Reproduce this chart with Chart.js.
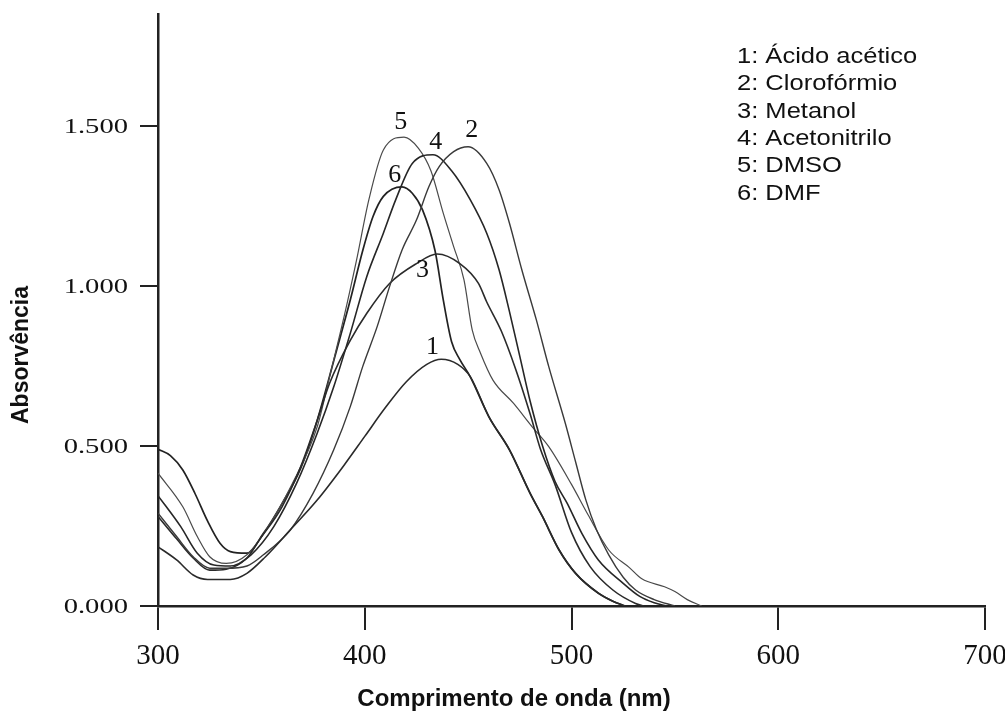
<!DOCTYPE html>
<html>
<head>
<meta charset="utf-8">
<script src="https://cdn.jsdelivr.net/npm/chart.js@4/dist/chart.umd.min.js"></script>
<style>
  body { margin: 0; background: #fff; }
  canvas { display: block; }
</style>
</head>
<body>
<canvas id="spectra" width="1005" height="713"></canvas>
<script>
// Espectros UV-Vis em diferentes solventes
// valores (comprimento de onda em nm, absorvência)

let legendLines = ['1: Ácido acético', '2: Clorofórmio', '3: Metanol', '4: Acetonitrilo', '5: DMSO', '6: DMF'];
let xTicks = [300, 400, 500, 600, 700];
let yTicks = [0, 0.5, 1.0, 1.5];

// 1: Ácido acético
let wl1 = [300, 309, 317, 324, 335, 343, 352, 364, 377, 390, 400, 410, 420, 430, 437, 445, 451, 460, 470, 480, 486, 494, 502, 513, 520, 526];
let abs1 = [0.185, 0.144, 0.097, 0.083, 0.083, 0.102, 0.154, 0.238, 0.331, 0.44, 0.53, 0.62, 0.70, 0.755, 0.771, 0.755, 0.717, 0.592, 0.488, 0.352, 0.279, 0.175, 0.102, 0.04, 0.015, 0];

// 2: Clorofórmio
let wl2 = [300, 309, 317, 325, 333, 343, 351, 364, 375, 385, 393, 399, 406, 412, 418, 425, 431, 436, 443, 450, 459, 465, 470, 476, 483, 489, 497, 502, 507, 512, 518, 525, 531, 540, 550];
let abs2 = [0.29, 0.217, 0.154, 0.118, 0.118, 0.125, 0.16, 0.238, 0.352, 0.488, 0.623, 0.748, 0.873, 0.998, 1.112, 1.206, 1.31, 1.373, 1.42, 1.435, 1.383, 1.30, 1.196, 1.05, 0.894, 0.748, 0.571, 0.45, 0.33, 0.24, 0.16, 0.09, 0.05, 0.02, 0];

// 3: Metanol
let wl3 = [300, 309, 317, 325, 333, 343, 349, 360, 369, 377, 383, 393, 401, 412, 425, 435, 446, 455, 459, 466, 473, 480, 485, 492, 500, 509, 520, 531, 535];
let abs3 = [0.28, 0.21, 0.15, 0.112, 0.115, 0.15, 0.206, 0.31, 0.435, 0.58, 0.696, 0.83, 0.915, 1.008, 1.07, 1.10, 1.07, 1.008, 0.95, 0.86, 0.74, 0.60, 0.49, 0.38, 0.23, 0.123, 0.05, 0.008, 0];

// 4: Acetonitrilo
let wl4 = [300, 311, 319, 327, 335, 345, 356, 367, 377, 385, 393, 401, 409, 415, 423, 433, 442, 451, 459, 465, 470, 475, 480, 486, 492, 498, 505, 513, 525, 533, 540, 546];
let abs4 = [0.345, 0.248, 0.165, 0.128, 0.125, 0.16, 0.248, 0.383, 0.54, 0.685, 0.852, 1.03, 1.165, 1.27, 1.383, 1.41, 1.36, 1.27, 1.165, 1.05, 0.92, 0.78, 0.64, 0.50, 0.39, 0.32, 0.227, 0.144, 0.071, 0.03, 0.01, 0];

// 5: DMSO
let wl5 = [300, 312, 319, 325, 333, 343, 352, 365, 377, 383, 390, 396, 402, 409, 419, 426, 432, 438, 443, 448, 452, 456, 462, 472, 481, 489, 500, 508, 518, 528, 534, 545, 550, 556, 563];
let abs5 = [0.415, 0.31, 0.217, 0.154, 0.133, 0.16, 0.235, 0.383, 0.56, 0.717, 0.904, 1.08, 1.27, 1.425, 1.465, 1.43, 1.36, 1.227, 1.123, 1.019, 0.862, 0.79, 0.706, 0.633, 0.56, 0.498, 0.38, 0.285, 0.175, 0.12, 0.085, 0.06, 0.045, 0.02, 0];

// 6: DMF
let wl6 = [300, 306, 312, 318, 324, 330, 335, 343, 351, 360, 369, 377, 386, 393, 399, 404, 409, 418, 423, 428, 434, 438, 442, 446, 451, 460, 470, 480, 486, 494, 502, 513, 520, 526];
let abs6 = [0.49, 0.47, 0.425, 0.35, 0.265, 0.196, 0.17, 0.165, 0.227, 0.32, 0.43, 0.58, 0.79, 0.956, 1.11, 1.217, 1.28, 1.31, 1.29, 1.237, 1.11, 0.956, 0.826, 0.77, 0.717, 0.592, 0.488, 0.352, 0.279, 0.175, 0.102, 0.04, 0.015, 0];

// números das curvas (posição em coordenadas de dados)
let curveLabels = ['1', '2', '3', '4', '5', '6'];
let labelWl = [432.8, 451.7, 427.9, 434.3, 417.4, 414.5];
let labelAbs = [0.809, 1.4875, 1.05, 1.45, 1.5125, 1.347];

function toPoints(xs, ys) {
  return xs.map((x, i) => ({ x: x, y: ys[i] }));
}

let curves = [
  { data: toPoints(wl1, abs1), color: '#2a2a2a', width: 1.6 },
  { data: toPoints(wl2, abs2), color: '#3a3a3a', width: 1.4 },
  { data: toPoints(wl3, abs3), color: '#2a2a2a', width: 1.6 },
  { data: toPoints(wl4, abs4), color: '#262626', width: 1.6 },
  { data: toPoints(wl5, abs5), color: '#4a4a4a', width: 1.2 },
  { data: toPoints(wl6, abs6), color: '#222222', width: 1.7 }
];

// texto esticado na horizontal, como no original
function stretchedText(ctx, text, x, y, sx) {
  ctx.save();
  ctx.translate(x, y);
  ctx.scale(sx, 1);
  ctx.fillText(text, 0, 0);
  ctx.restore();
}

// textos extra: rótulos dos eixos, legenda, números das curvas e títulos
let annotations = {
  id: 'annotations',
  afterDraw(chart) {
    let ctx = chart.ctx;
    let xs = chart.scales.x;
    let ys = chart.scales.y;
    ctx.save();
    ctx.fillStyle = '#111';

    // tick labels
    ctx.font = '22px "Liberation Serif"';
    ctx.textAlign = 'right';
    ctx.textBaseline = 'middle';
    yTicks.forEach(v => {
      stretchedText(ctx, v.toFixed(3), 128, ys.getPixelForValue(v) + 1, 1.3);
    });
    ctx.font = '29px "Liberation Serif"';
    ctx.textAlign = 'center';
    xTicks.forEach(v => {
      ctx.fillText(String(v), xs.getPixelForValue(v), 656);
    });

    ctx.font = '26px "Liberation Serif"';
    curveLabels.forEach((t, i) => {
      ctx.fillText(t, xs.getPixelForValue(labelWl[i]), ys.getPixelForValue(labelAbs[i]));
    });

    ctx.font = '22px "Liberation Sans"';
    ctx.textAlign = 'left';
    legendLines.forEach((t, i) => {
      stretchedText(ctx, t, 737, 57 + i * 27.3, 1.16);
    });

    ctx.font = 'bold 24px "Liberation Sans"';
    ctx.textAlign = 'center';
    ctx.fillText('Comprimento de onda (nm)', 514, 699);
    ctx.translate(22, 355);
    ctx.rotate(-Math.PI / 2);
    ctx.font = 'bold 23px "Liberation Sans"';
    ctx.fillText('Absorvência', 0, 0);
    ctx.restore();
  }
};

let config = {
  type: 'line',
  data: {
    datasets: curves.map((c, i) => ({
      label: legendLines[i],
      data: c.data,
      borderColor: c.color,
      borderWidth: c.width,
      pointRadius: 0,
      fill: false,
      cubicInterpolationMode: 'monotone'
    }))
  },
  options: {
    responsive: false,
    animation: false,
    layout: { padding: { top: 14, right: 20, left: 0, bottom: 0 } },
    plugins: {
      legend: { display: false },
      tooltip: { enabled: false }
    },
    scales: {
      x: {
        type: 'linear',
        min: 300,
        max: 700,
        afterBuildTicks: (scale) => { scale.ticks = xTicks.map(v => ({ value: v })); },
        afterFit: (scale) => { scale.height = 107; },
        border: { color: '#222', width: 2.5 },
        grid: { drawOnChartArea: false, color: '#222', lineWidth: 2, tickLength: 24 },
        ticks: { display: false }
      },
      y: {
        min: 0,
        max: 1.85,
        afterBuildTicks: (scale) => { scale.ticks = yTicks.map(v => ({ value: v })); },
        afterFit: (scale) => { scale.width = 158; },
        border: { color: '#222', width: 2.5 },
        grid: { drawOnChartArea: false, color: '#222', lineWidth: 2, tickLength: 18 },
        ticks: { display: false }
      }
    }
  },
  plugins: [annotations]
};

let spectraChart = new Chart(document.getElementById('spectra'), config);
</script>
</body>
</html>
